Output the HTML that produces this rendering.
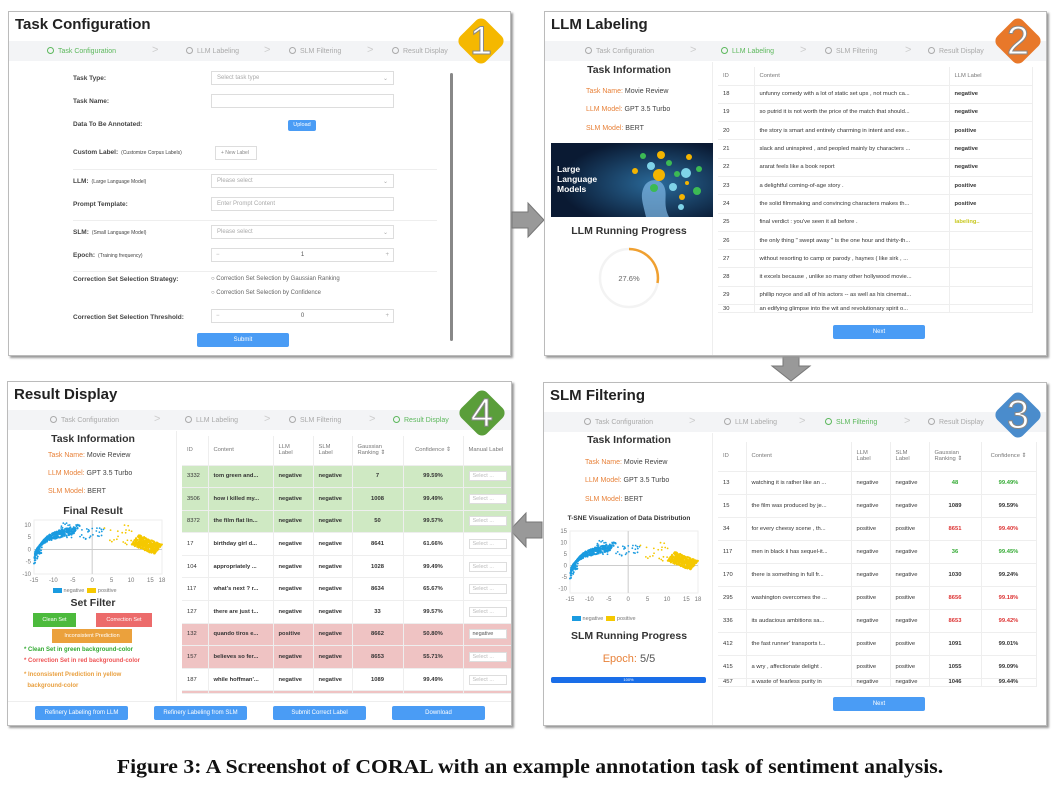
<!DOCTYPE html>
<html><head><meta charset="utf-8">
<style>
*{box-sizing:border-box;margin:0;padding:0}
body{width:1060px;height:785px;background:#fff;position:relative;overflow:hidden;font-family:"Liberation Sans",sans-serif;color:#333}
.a{position:absolute;white-space:nowrap}
.panel{position:absolute;background:#fff;border:1px solid #bbb;box-shadow:2px 2px 2px #999;overflow:hidden}
.ttl{position:absolute;left:6px;top:4px;font-size:15px;font-weight:bold;color:#222}
.steps{position:absolute;left:0;right:0;top:29px;height:20px;background:#f3f4f6;font-size:7px;color:#aaa}
.steps span{position:absolute;top:6px}
.steps i{display:inline-block;width:7px;height:7px;border:1px solid #aaa;border-radius:50%;margin-right:4px;vertical-align:-1px}
.steps .on{color:#5cb85c}.steps .on i{border-color:#5cb85c}
.steps b{position:absolute;top:3px;font-weight:normal;font-size:11px;color:#ccc}
.lbl{position:absolute;font-size:6.5px;font-weight:bold;color:#444}
.lbl small{font-size:5px;font-weight:normal;margin-left:3px}
.inp{position:absolute;border:1px solid #ddd;background:#fff;height:14px;font-size:6px;color:#aaa;padding:3px 5px}
.btn{position:absolute;background:#4a9cf5;color:#fff;font-size:6px;text-align:center;border-radius:2px}
.sep{position:absolute;height:1px;background:#eee}
.info{position:absolute;font-size:7px;color:#444}
.info em{font-style:normal;color:#e8823a}
.h2{position:absolute;font-weight:bold;color:#333;text-align:center}
table{position:absolute;border-collapse:collapse;font-size:5.8px;color:#333;table-layout:fixed}
td,th{border-bottom:1px solid #eee;border-right:1px solid #eee;padding:0 5px;overflow:hidden;white-space:nowrap;text-overflow:clip;text-align:left}
th{font-weight:normal;color:#777}
td.b{font-weight:bold}
.g td{background:#cfe9c3}.r td{background:#efc3c3}
.c{text-align:center}
.badge{position:absolute;width:36px;height:36px;border-radius:7px;transform:rotate(45deg)}
.num{position:absolute;font-size:40px;color:#fff;font-family:"Liberation Sans",sans-serif;-webkit-text-stroke:1px #888;line-height:1;width:50px;text-align:center}
.sel{display:inline-block;border:1px solid #ddd;background:#fff;color:#bbb;padding:1px 3px;width:38px;font-size:5.5px}
</style></head><body>

<!-- Panel 1 -->
<div class="panel" style="left:8px;top:11px;width:503px;height:345px">
 <div class="ttl">Task Configuration</div>
 <div class="steps"><span class="on" style="left:38px"><i></i>Task Configuration</span><b style="left:143px">&gt;</b><span style="left:177px"><i></i>LLM Labeling</span><b style="left:255px">&gt;</b><span style="left:280px"><i></i>SLM Filtering</span><b style="left:358px">&gt;</b><span style="left:383px"><i></i>Result Display</span></div>
 <div class="lbl" style="left:64px;top:63px">Task Type:</div><div class="inp" style="left:202px;top:59px;width:183px">Select task type<span style="float:right">&#8964;</span></div>
 <div class="lbl" style="left:64px;top:86px">Task Name:</div><div class="inp" style="left:202px;top:82px;width:183px"></div>
 <div class="lbl" style="left:64px;top:109px">Data To Be Annotated:</div><div class="btn" style="left:279px;top:108px;width:28px;height:11px;line-height:11px;font-size:5.5px">Upload</div>
 <div class="lbl" style="left:64px;top:137px">Custom Label:<small>(Customize Corpus Labels)</small></div><div class="inp" style="left:206px;top:134px;width:42px;font-size:5px;color:#888">+ New Label</div>
 <div class="sep" style="left:64px;top:157px;width:364px"></div>
 <div class="lbl" style="left:64px;top:166px">LLM:<small>(Large Language Model)</small></div><div class="inp" style="left:202px;top:162px;width:183px">Please select<span style="float:right">&#8964;</span></div>
 <div class="lbl" style="left:64px;top:189px">Prompt Template:</div><div class="inp" style="left:202px;top:185px;width:183px">Enter Prompt Content</div>
 <div class="sep" style="left:64px;top:208px;width:364px"></div>
 <div class="lbl" style="left:64px;top:217px">SLM:<small>(Small Language Model)</small></div><div class="inp" style="left:202px;top:213px;width:183px">Please select<span style="float:right">&#8964;</span></div>
 <div class="lbl" style="left:64px;top:240px">Epoch:<small>(Training frequency)</small></div><div class="inp" style="left:202px;top:236px;width:183px;text-align:center;color:#555">1<span style="position:absolute;left:4px;color:#aaa">&minus;</span><span style="position:absolute;right:4px;color:#aaa">+</span></div>
 <div class="sep" style="left:64px;top:259px;width:364px"></div>
 <div class="lbl" style="left:64px;top:264px">Correction Set Selection Strategy:</div>
 <div class="a" style="left:202px;top:264px;font-size:6px;color:#666">&#9675; Correction Set Selection by Gaussian Ranking</div>
 <div class="a" style="left:202px;top:278px;font-size:6px;color:#666">&#9675; Correction Set Selection by Confidence</div>
 <div class="lbl" style="left:64px;top:302px">Correction Set Selection Threshold:</div><div class="inp" style="left:202px;top:297px;width:183px;text-align:center;color:#555">0<span style="position:absolute;left:4px;color:#aaa">&minus;</span><span style="position:absolute;right:4px;color:#aaa">+</span></div>
 <div class="btn" style="left:188px;top:321px;width:92px;height:14px;line-height:14px">Submit</div>
 <div class="a" style="left:441px;top:61px;width:3px;height:268px;background:#888;border-radius:2px"></div>
</div>
<div class="badge" style="left:463px;top:23px;background:#f5b800"></div><div class="num" style="left:456px;top:21px">1</div>

<!-- Arrows -->
<svg class="a" style="left:510px;top:200px" width="36" height="40"><polygon points="2,12 18,12 18,3 34,20 18,37 18,28 2,28" fill="#999" stroke="#777"/></svg>
<svg class="a" style="left:770px;top:356px" width="42" height="28"><polygon points="13,1 29,1 29,10 40,10 21,25 2,10 13,10" fill="#999" stroke="#777"/></svg>
<svg class="a" style="left:508px;top:510px" width="36" height="40"><polygon points="34,12 18,12 18,3 2,20 18,37 18,28 34,28" fill="#999" stroke="#777"/></svg>

<!-- Panel 2 -->
<div class="panel" style="left:544px;top:11px;width:503px;height:345px">
 <div class="ttl">LLM Labeling</div>
 <div class="steps"><span style="left:40px"><i></i>Task Configuration</span><b style="left:145px">&gt;</b><span class="on" style="left:176px"><i></i>LLM Labeling</span><b style="left:255px">&gt;</b><span style="left:280px"><i></i>SLM Filtering</span><b style="left:360px">&gt;</b><span style="left:383px"><i></i>Result Display</span></div>
 <div class="a" style="left:167px;top:50px;width:1px;height:295px;background:#eee"></div>
 <div class="h2" style="left:0;width:168px;top:52px;font-size:10.5px">Task Information</div>
 <div class="info" style="left:41px;top:76px"><em>Task Name:</em> Movie Review</div>
 <div class="info" style="left:41px;top:94px"><em>LLM Model:</em> GPT 3.5 Turbo</div>
 <div class="info" style="left:41px;top:113px"><em>SLM Model:</em> BERT</div>
 <svg class="a" style="left:6px;top:131px" width="162" height="74">
  <defs><radialGradient id="gr" cx="0.65" cy="0.55" r="0.6"><stop offset="0" stop-color="#2a6a9a"/><stop offset="1" stop-color="#0a1a33"/></radialGradient></defs>
  <rect width="162" height="74" fill="url(#gr)"/>
  <path d="M95,74 C92,60 88,52 94,42 C100,34 112,36 114,46 C116,54 112,62 118,74Z" fill="#7fb8e6" opacity="0.7"/>
  <g><circle cx="110" cy="12" r="4" fill="#f4b400"/><circle cx="92" cy="13" r="3" fill="#3cba54"/><circle cx="138" cy="14" r="3" fill="#f4b400"/><circle cx="100" cy="23" r="4" fill="#7fd3e8"/><circle cx="118" cy="20" r="3" fill="#3cba54"/><circle cx="148" cy="26" r="3" fill="#3cba54"/><circle cx="108" cy="32" r="6" fill="#f4b400"/><circle cx="126" cy="31" r="3" fill="#3cba54"/><circle cx="135" cy="30" r="5" fill="#7fd3e8"/><circle cx="84" cy="28" r="3" fill="#f4b400"/><circle cx="122" cy="44" r="4" fill="#7fd3e8"/><circle cx="103" cy="45" r="4" fill="#3cba54"/><circle cx="136" cy="40" r="2" fill="#f4b400"/><circle cx="146" cy="48" r="4" fill="#3cba54"/><circle cx="131" cy="54" r="3" fill="#f4b400"/><circle cx="130" cy="64" r="3" fill="#7fd3e8"/></g>
  <text x="6" y="29" font-size="8.5" fill="#fff" font-weight="bold" font-family="Liberation Sans">Large</text>
  <text x="6" y="39" font-size="8.5" fill="#fff" font-weight="bold" font-family="Liberation Sans">Language</text>
  <text x="6" y="49" font-size="8.5" fill="#fff" font-weight="bold" font-family="Liberation Sans">Models</text>
 </svg>
 <div class="h2" style="left:0;width:168px;top:213px;font-size:10.5px">LLM Running Progress</div>
 <svg class="a" style="left:52px;top:234px" width="64" height="64"><circle cx="32" cy="32" r="29" fill="none" stroke="#f3f3f3" stroke-width="2.5"/><path d="M32,3 A29,29 0 0 1 60.5,37" fill="none" stroke="#f0a030" stroke-width="2.5"/><text x="32" y="35" font-size="7.5" fill="#666" text-anchor="middle" font-family="Liberation Sans">27.6%</text></svg>
 <table style="left:173px;top:55px;width:314px">
  <colgroup><col style="width:36px"><col style="width:195px"><col style="width:83px"></colgroup>
  <tr style="height:18px"><th>ID</th><th>Content</th><th>LLM Label</th></tr>
  <tr style="height:18.3px"><td>18</td><td>unfunny comedy with a lot of static set ups , not much ca...</td><td class="b">negative</td></tr>
  <tr style="height:18.3px"><td>19</td><td>so putrid it is not worth the price of the match that should...</td><td class="b">negative</td></tr>
  <tr style="height:18.3px"><td>20</td><td>the story is smart and entirely charming in intent and exe...</td><td class="b">positive</td></tr>
  <tr style="height:18.3px"><td>21</td><td>slack and uninspired , and peopled mainly by characters ...</td><td class="b">negative</td></tr>
  <tr style="height:18.3px"><td>22</td><td>ararat feels like a book report</td><td class="b">negative</td></tr>
  <tr style="height:18.3px"><td>23</td><td>a delightful coming-of-age story .</td><td class="b">positive</td></tr>
  <tr style="height:18.3px"><td>24</td><td>the solid filmmaking and convincing characters makes th...</td><td class="b">positive</td></tr>
  <tr style="height:18.3px"><td>25</td><td>final verdict : you've seen it all before .</td><td class="b" style="color:#c8c820">labeling..</td></tr>
  <tr style="height:18.3px"><td>26</td><td>the only thing " swept away " is the one hour and thirty-th...</td><td></td></tr>
  <tr style="height:18.3px"><td>27</td><td>without resorting to camp or parody , haynes ( like sirk , ...</td><td></td></tr>
  <tr style="height:18.3px"><td>28</td><td>it excels because , unlike so many other hollywood movie...</td><td></td></tr>
  <tr style="height:18.3px"><td>29</td><td>phillip noyce and all of his actors -- as well as his cinemat...</td><td></td></tr>
  <tr style="height:8px"><td>30</td><td>an edifying glimpse into the wit and revolutionary spirit o...</td><td></td></tr>
 </table>
 <div class="btn" style="left:288px;top:313px;width:92px;height:14px;line-height:14px">Next</div>
</div>
<div class="badge" style="left:1000px;top:23px;background:#e8782a"></div><div class="num" style="left:993px;top:21px">2</div>

<!-- Panel 3 -->
<div class="panel" style="left:543px;top:382px;width:504px;height:344px">
 <div class="ttl">SLM Filtering</div>
 <div class="steps"><span style="left:40px"><i></i>Task Configuration</span><b style="left:145px">&gt;</b><span style="left:180px"><i></i>LLM Labeling</span><b style="left:255px">&gt;</b><span class="on" style="left:281px"><i></i>SLM Filtering</span><b style="left:360px">&gt;</b><span style="left:384px"><i></i>Result Display</span></div>
 <div class="a" style="left:168px;top:50px;width:1px;height:294px;background:#eee"></div>
 <div class="h2" style="left:0;width:170px;top:51px;font-size:10.5px">Task Information</div>
 <div class="info" style="left:41px;top:76px"><em>Task Name:</em> Movie Review</div>
 <div class="info" style="left:41px;top:94px"><em>LLM Model:</em> GPT 3.5 Turbo</div>
 <div class="info" style="left:41px;top:113px"><em>SLM Model:</em> BERT</div>
 <div class="h2" style="left:0;width:170px;top:132px;font-size:6.5px">T-SNE Visualization of Data Distribution</div>
 <svg class="a" style="left:4px;top:143px" width="160" height="90" id="sc1"></svg>
 <div class="h2" style="left:0;width:170px;top:247px;font-size:10.5px">SLM Running Progress</div>
 <div class="h2" style="left:0;width:170px;top:270px;font-size:11px;font-weight:normal;color:#555"><span style="color:#e8823a">Epoch:</span> 5/5</div>
 <div class="a" style="left:7px;top:294px;width:155px;height:6px;background:#1a6ee8;border-radius:2px;font-size:4px;color:#fff;text-align:center;line-height:6px">100%</div>
 <table style="left:174px;top:59px;width:318px">
  <colgroup><col style="width:28px"><col style="width:105px"><col style="width:39px"><col style="width:39px"><col style="width:52px"><col style="width:55px"></colgroup>
  <tr style="height:29px"><th>ID</th><th>Content</th><th>LLM<br>Label</th><th>SLM<br>Label</th><th>Gaussian<br>Ranking &#8661;</th><th class="c">Confidence &#8661;</th></tr>
  <tr style="height:23px"><td>13</td><td>watching it is rather like an ...</td><td>negative</td><td>negative</td><td class="b c" style="color:#3a3">48</td><td class="b c" style="color:#3a3">99.49%</td></tr>
  <tr style="height:23px"><td>15</td><td>the film was produced by je...</td><td>negative</td><td>negative</td><td class="b c">1089</td><td class="b c">99.59%</td></tr>
  <tr style="height:23px"><td>34</td><td>for every cheesy scene , th...</td><td>positive</td><td>positive</td><td class="b c" style="color:#d33">8651</td><td class="b c" style="color:#d33">99.40%</td></tr>
  <tr style="height:23px"><td>117</td><td>men in black ii has sequel-it...</td><td>negative</td><td>negative</td><td class="b c" style="color:#3a3">36</td><td class="b c" style="color:#3a3">99.45%</td></tr>
  <tr style="height:23px"><td>170</td><td>there is something in full fr...</td><td>negative</td><td>negative</td><td class="b c">1030</td><td class="b c">99.24%</td></tr>
  <tr style="height:23px"><td>295</td><td>washington overcomes the ...</td><td>positive</td><td>positive</td><td class="b c" style="color:#d33">8656</td><td class="b c" style="color:#d33">99.18%</td></tr>
  <tr style="height:23px"><td>336</td><td>its audacious ambitions sa...</td><td>negative</td><td>negative</td><td class="b c" style="color:#d33">8653</td><td class="b c" style="color:#d33">99.42%</td></tr>
  <tr style="height:23px"><td>412</td><td>the fast runner' transports t...</td><td>positive</td><td>positive</td><td class="b c">1091</td><td class="b c">99.01%</td></tr>
  <tr style="height:23px"><td>415</td><td>a wry , affectionate delight .</td><td>positive</td><td>positive</td><td class="b c">1055</td><td class="b c">99.09%</td></tr>
  <tr style="height:8px"><td>457</td><td>a waste of fearless purity in</td><td>negative</td><td>negative</td><td class="b c">1046</td><td class="b c">99.44%</td></tr>
 </table>
 <div class="btn" style="left:289px;top:314px;width:92px;height:14px;line-height:14px">Next</div>
</div>
<div class="badge" style="left:1000px;top:397px;background:#4a8ccc"></div><div class="num" style="left:993px;top:395px">3</div>

<!-- Panel 4 -->
<div class="panel" style="left:7px;top:381px;width:505px;height:345px">
 <div class="ttl">Result Display</div>
 <div class="steps" style="top:28px"><span style="left:42px"><i></i>Task Configuration</span><b style="left:146px">&gt;</b><span style="left:177px"><i></i>LLM Labeling</span><b style="left:256px">&gt;</b><span style="left:281px"><i></i>SLM Filtering</span><b style="left:361px">&gt;</b><span class="on" style="left:385px"><i></i>Result Display</span></div>
 <div class="a" style="left:168px;top:49px;width:1px;height:270px;background:#eee"></div>
 <div class="h2" style="left:0;width:170px;top:51px;font-size:10.5px">Task Information</div>
 <div class="info" style="left:40px;top:70px"><em>Task Name:</em> Movie Review</div>
 <div class="info" style="left:40px;top:88px"><em>LLM Model:</em> GPT 3.5 Turbo</div>
 <div class="info" style="left:40px;top:106px"><em>SLM Model:</em> BERT</div>
 <div class="h2" style="left:0;width:170px;top:123px;font-size:10.5px">Final Result</div>
 <svg class="a" style="left:4px;top:132px" width="160" height="76" id="sc2"></svg>
 <div class="h2" style="left:0;width:170px;top:215px;font-size:10.5px">Set Filter</div>
 <div class="a" style="left:25px;top:231px;width:43px;height:14px;background:#4cba3c;color:#fff;font-size:5.5px;text-align:center;line-height:14px">Clean Set</div>
 <div class="a" style="left:88px;top:231px;width:56px;height:14px;background:#ec6b6b;color:#fff;font-size:5.5px;text-align:center;line-height:14px">Correction Set</div>
 <div class="a" style="left:44px;top:247px;width:80px;height:14px;background:#eba13c;color:#fff;font-size:5.5px;text-align:center;line-height:14px">Inconsistent Prediction</div>
 <div class="a" style="left:16px;top:265px;font-size:6px;font-weight:bold;color:#3a3">* Clean Set in green background-color</div>
 <div class="a" style="left:16px;top:276px;font-size:6px;font-weight:bold;color:#e55">* Correction Set in red background-color</div>
 <div class="a" style="left:16px;top:288px;font-size:6px;font-weight:bold;color:#e9a040;line-height:11px">* Inconsistent Prediction in yellow<br>&nbsp;&nbsp;background-color</div>
 <table style="left:174px;top:54px;width:330px">
  <colgroup><col style="width:26px"><col style="width:65px"><col style="width:40px"><col style="width:39px"><col style="width:51px"><col style="width:60px"><col style="width:49px"></colgroup>
  <tr style="height:29px"><th>ID</th><th>Content</th><th>LLM<br>Label</th><th>SLM<br>Label</th><th>Gaussian<br>Ranking &#8661;</th><th class="c">Confidence &#8661;</th><th>Manual Label</th></tr>
  <tr class="g" style="height:22.6px"><td>3332</td><td class="b">tom green and...</td><td class="b">negative</td><td class="b">negative</td><td class="b c">7</td><td class="b c">99.59%</td><td><span class="sel">Select ...</span></td></tr>
  <tr class="g" style="height:22.6px"><td>3506</td><td class="b">how i killed my...</td><td class="b">negative</td><td class="b">negative</td><td class="b c">1008</td><td class="b c">99.49%</td><td><span class="sel">Select ...</span></td></tr>
  <tr class="g" style="height:22.6px"><td>8372</td><td class="b">the film flat lin...</td><td class="b">negative</td><td class="b">negative</td><td class="b c">50</td><td class="b c">99.57%</td><td><span class="sel">Select ...</span></td></tr>
  <tr style="height:22.6px"><td>17</td><td class="b">birthday girl d...</td><td class="b">negative</td><td class="b">negative</td><td class="b c">8641</td><td class="b c">61.66%</td><td><span class="sel">Select ...</span></td></tr>
  <tr style="height:22.6px"><td>104</td><td class="b">appropriately ...</td><td class="b">negative</td><td class="b">negative</td><td class="b c">1028</td><td class="b c">99.49%</td><td><span class="sel">Select ...</span></td></tr>
  <tr style="height:22.6px"><td>117</td><td class="b">what's next ? r...</td><td class="b">negative</td><td class="b">negative</td><td class="b c">8634</td><td class="b c">65.67%</td><td><span class="sel">Select ...</span></td></tr>
  <tr style="height:22.6px"><td>127</td><td class="b">there are just t...</td><td class="b">negative</td><td class="b">negative</td><td class="b c">33</td><td class="b c">99.57%</td><td><span class="sel">Select ...</span></td></tr>
  <tr class="r" style="height:22.6px"><td>132</td><td class="b">quando tiros e...</td><td class="b">positive</td><td class="b">negative</td><td class="b c">8662</td><td class="b c">50.80%</td><td><span class="sel" style="color:#555">negative</span></td></tr>
  <tr class="r" style="height:22.6px"><td>157</td><td class="b">believes so fer...</td><td class="b">negative</td><td class="b">negative</td><td class="b c">8653</td><td class="b c">55.71%</td><td><span class="sel">Select ...</span></td></tr>
  <tr style="height:22.6px"><td>187</td><td class="b">while hoffman'...</td><td class="b">negative</td><td class="b">negative</td><td class="b c">1089</td><td class="b c">99.49%</td><td><span class="sel">Select ...</span></td></tr>
  <tr class="r" style="height:3px"><td></td><td></td><td></td><td></td><td></td><td></td><td></td></tr>
 </table>
 <div class="a" style="left:0;right:0;top:319px;height:1px;background:#eee"></div>
 <div class="btn" style="left:27px;top:324px;width:93px;height:14px;line-height:14px">Refinery Labeling from LLM</div>
 <div class="btn" style="left:146px;top:324px;width:93px;height:14px;line-height:14px">Refinery Labeling from SLM</div>
 <div class="btn" style="left:265px;top:324px;width:93px;height:14px;line-height:14px">Submit Correct Label</div>
 <div class="btn" style="left:384px;top:324px;width:93px;height:14px;line-height:14px">Download</div>
</div>
<div class="badge" style="left:464px;top:395px;background:#5a9e3a"></div><div class="num" style="left:457px;top:393px">4</div>

<div class="a" style="left:80px;top:756px;width:900px;text-align:center;font-family:'Liberation Serif',serif;font-weight:bold;font-size:20px;color:#111;transform:scaleX(1.085);transform-origin:center">Figure 3: A Screenshot of CORAL with an example annotation task of sentiment analysis.</div>

<script>
function scatter(id,ox,oy,pw,ph,ticksY){
 var s=document.getElementById(id),out="";
 function X(v){return ox+(v+15)/33*pw} function Y(v){return oy+ph-(v+ (ticksY?12:10))/(ticksY?27:22)*ph}
 out+='<rect x="'+ox+'" y="'+oy+'" width="'+pw+'" height="'+ph+'" fill="none" stroke="#eee"/>';
 out+='<line x1="'+X(0)+'" y1="'+oy+'" x2="'+X(0)+'" y2="'+(oy+ph)+'" stroke="#ccc"/>';
 out+='<line x1="'+ox+'" y1="'+Y(0)+'" x2="'+(ox+pw)+'" y2="'+Y(0)+'" stroke="#ccc"/>';
 var r=1;function rnd(){r=(r*16807)%2147483647;return r/2147483647}
 for(var i=0;i<500;i++){var t=rnd(),u=rnd()-0.5;var x=-14+t*t*10+u*2,y=-4+Math.sqrt(t)*12+u*4;out+='<circle cx="'+X(x)+'" cy="'+Y(y)+'" r="1" fill="#1a9be0"/>';}
 for(var i=0;i<40;i++){var x=-8+rnd()*11,y=4+rnd()*7;out+='<circle cx="'+X(x)+'" cy="'+Y(y)+'" r="0.9" fill="#1a9be0"/>';}
 for(var i=0;i<400;i++){var t=rnd(),u=rnd()-0.5;var x=11+t*6+u*2,y=4-t*4+u*4;out+='<circle cx="'+X(x)+'" cy="'+Y(y)+'" r="1" fill="#f5c800"/>';}
 for(var i=0;i<20;i++){var x=3+rnd()*8,y=2+rnd()*8;out+='<circle cx="'+X(x)+'" cy="'+Y(y)+'" r="0.9" fill="#f5c800"/>';}
 [-15,-10,-5,0,5,10,15,18].forEach(function(v){out+='<text x="'+X(v)+'" y="'+(oy+ph+8)+'" font-size="6" fill="#777" text-anchor="middle" font-family="Liberation Sans">'+v+'</text>'});
 (ticksY?[15,10,5,0,-5,-10]:[10,5,0,-5,-10]).forEach(function(v){out+='<text x="'+(ox-3)+'" y="'+(Y(v)+2)+'" font-size="6" fill="#777" text-anchor="end" font-family="Liberation Sans">'+v+'</text>'});
 s.innerHTML=out;
}
scatter("sc1",22,5,128,62,true);
scatter("sc2",22,6,128,54,false);
</script>
<div class="a" style="left:572px;top:616px;font-size:5.5px;color:#777"><span style="display:inline-block;width:9px;height:5px;background:#1a9be0;vertical-align:-1px"></span> negative &nbsp;<span style="display:inline-block;width:9px;height:5px;background:#f5c800;vertical-align:-1px"></span> positive</div>
<div class="a" style="left:53px;top:588px;font-size:5.5px;color:#777"><span style="display:inline-block;width:9px;height:5px;background:#1a9be0;vertical-align:-1px"></span> negative &nbsp;<span style="display:inline-block;width:9px;height:5px;background:#f5c800;vertical-align:-1px"></span> positive</div>
</body></html>
